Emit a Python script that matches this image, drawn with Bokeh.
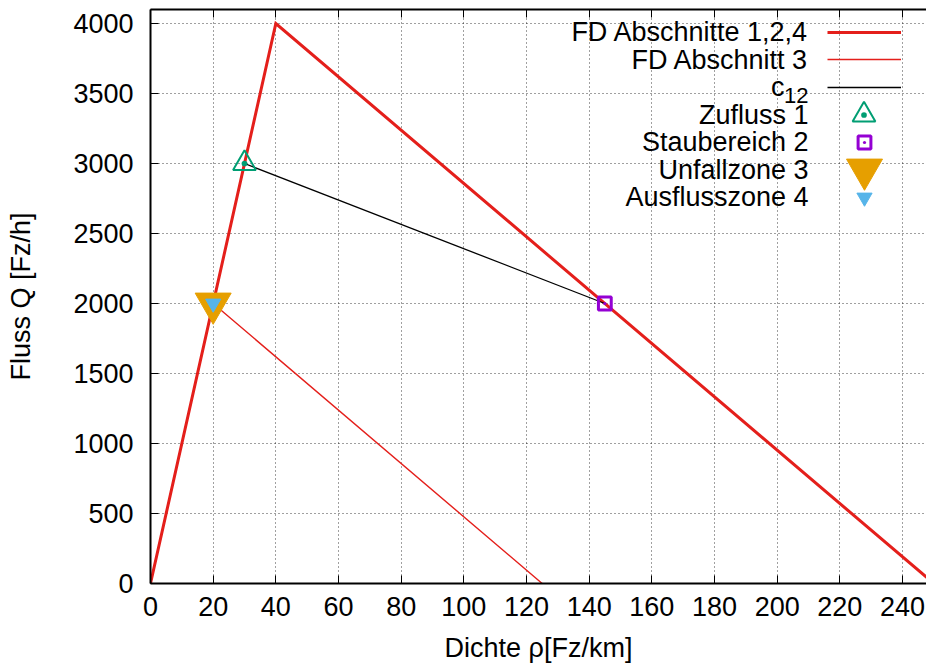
from bokeh.plotting import figure
from bokeh.models import Range1d, LinearAxis, FixedTicker, Label, Legend, LegendItem
from bokeh.core.properties import value
from bokeh.embed import file_html
from bokeh.resources import INLINE

# ---- data ----
fd124_rho = [0, 40, 250]
fd124_q = [0, 4000, 0]
fd3_rho = [0, 20, 125]
fd3_q = [0, 2000, 0]
c12_rho = [30, 145]
c12_q = [3000, 2000]
zufluss_rho = [30]
zufluss_q = [3000]
stau_rho = [145]
stau_q = [2000]
unfall_rho = [20]
unfall_q = [2000]
ausfluss_rho = [20]
ausfluss_q = [2000]
x_ticks = [0, 20, 40, 60, 80, 100, 120, 140, 160, 180, 200, 220, 240]
y_ticks = [0, 500, 1000, 1500, 2000, 2500, 3000, 3500, 4000]
legend_labels = ["FD Abschnitte 1,2,4", "FD Abschnitt 3", "c", "Zufluss 1",
                 "Staubereich 2", "Unfallzone 3", "Ausflusszone 4"]

FONT = "Liberation Sans"
FS = "27px"
RED = "#e41f1b"

p = figure(width=926, height=666, output_backend="svg", toolbar_location=None,
           x_range=Range1d(0, 247.66), y_range=Range1d(0, 4100),
           min_border_left=150, min_border_right=0, min_border_top=9, min_border_bottom=83,
           x_axis_label="Dichte ρ[Fz/km]", y_axis_label="Fluss Q [Fz/h]")
p.outline_line_color = None
p.background_fill_color = "white"
p.border_fill_color = "white"

for ax in [p.xaxis[0], p.yaxis[0]]:
    ax.major_tick_in = 8
    ax.major_tick_out = 0
    ax.minor_tick_in = 0
    ax.minor_tick_out = 0
    ax.axis_line_width = 2
    ax.axis_line_color = "black"
    ax.major_tick_line_width = 1
    ax.major_tick_line_color = "black"
    ax.major_label_text_font = FONT
    ax.major_label_text_font_size = FS
    ax.major_label_text_color = "black"
    ax.axis_label_text_font = FONT
    ax.axis_label_text_font_size = FS
    ax.axis_label_text_font_style = "normal"
    ax.axis_label_text_color = "black"

p.xaxis.ticker = FixedTicker(ticks=x_ticks)
p.yaxis.ticker = FixedTicker(ticks=y_ticks)
p.xaxis.major_label_standoff = 13
p.yaxis.major_label_standoff = 17
p.xaxis.axis_label_standoff = 14
p.yaxis.axis_label_standoff = 34

top = LinearAxis(ticker=FixedTicker(ticks=x_ticks), major_tick_in=8, major_tick_out=0,
                 minor_tick_in=0, minor_tick_out=0, major_label_text_font_size="1px",
                 major_label_text_color=None, major_label_standoff=0,
                 axis_line_width=2, axis_line_color="black", major_tick_line_color="black")
p.add_layout(top, "above")

p.xgrid.ticker = FixedTicker(ticks=x_ticks)
p.ygrid.ticker = FixedTicker(ticks=y_ticks)
p.grid.grid_line_color = "black"
p.grid.grid_line_alpha = 0.75
p.grid.grid_line_dash = "1 3"
p.grid.grid_line_width = 1

r1 = p.line(fd124_rho, fd124_q, line_color=RED, line_width=3, line_join="miter")
r2 = p.line(fd3_rho, fd3_q, line_color=RED, line_width=1.4)
r3 = p.line(c12_rho, c12_q, line_color="black", line_width=1.3)
r4 = p.scatter(zufluss_rho, zufluss_q, marker="triangle_dot", size=22.8,
               line_color="#009e73", fill_color=None, line_width=2)
r5 = p.scatter(stau_rho, stau_q, marker="square_dot", size=12.8,
               line_color="#9400d3", fill_color=None, line_width=3)
r6 = p.scatter(unfall_rho, unfall_q, marker="inverted_triangle", size=36,
               line_color="#e69f00", fill_color="#e69f00", line_width=1)
r7 = p.scatter(ausfluss_rho, ausfluss_q, marker="inverted_triangle", size=15.2,
               line_color="#56b4e9", fill_color="#56b4e9", line_width=1)

# legend layout (frame pixel coordinates: from frame left / frame bottom)
FL, FB = 150, 583
row_cy = [31.7, 59.2, 86.7, 114.0, 141.7, 169.0, 196.7]
text_right = 808
samples = [(r1, "line", 0), (r2, "line", 0), (r3, "line", 0),
           (r4, "marker", 57), (r5, "marker", 32), (r6, "marker", 90), (r7, "marker", 38)]

for i, (r, kind, box) in enumerate(samples):
    cy = row_cy[i]
    if kind == "line":
        w, h = 74, 20
        left = 827
    else:
        w, h = box, box
        left = 863.5 - w / 2
    lg = Legend(items=[LegendItem(label=value(""), renderers=[r])],
                location=(left - FL, FB - cy - h / 2),
                glyph_width=w, glyph_height=h, label_width=0, label_height=0,
                label_standoff=0, padding=0, margin=0, spacing=0,
                label_text_font_size="1px",
                border_line_color=None, background_fill_alpha=0)
    p.add_layout(lg)

    if i == 2:
        p.add_layout(Label(x=text_right - 24 - FL, y=FB - cy, x_units="screen", y_units="screen",
                           text="c", text_align="right", text_baseline="alphabetic",
                           text_font=FONT, text_font_size=FS, text_color="black"))
        p.add_layout(Label(x=text_right - FL, y=FB - (cy + 8), x_units="screen", y_units="screen",
                           text="12", text_align="right", text_baseline="alphabetic",
                           text_font=FONT, text_font_size="22px", text_color="black"))
    else:
        p.add_layout(Label(x=text_right - FL, y=FB - cy, x_units="screen", y_units="screen",
                           text=legend_labels[i], text_align="right", text_baseline="alphabetic",
                           text_font=FONT, text_font_size=FS, text_color="black"))

open("out.html", "w").write(file_html(p, INLINE))
